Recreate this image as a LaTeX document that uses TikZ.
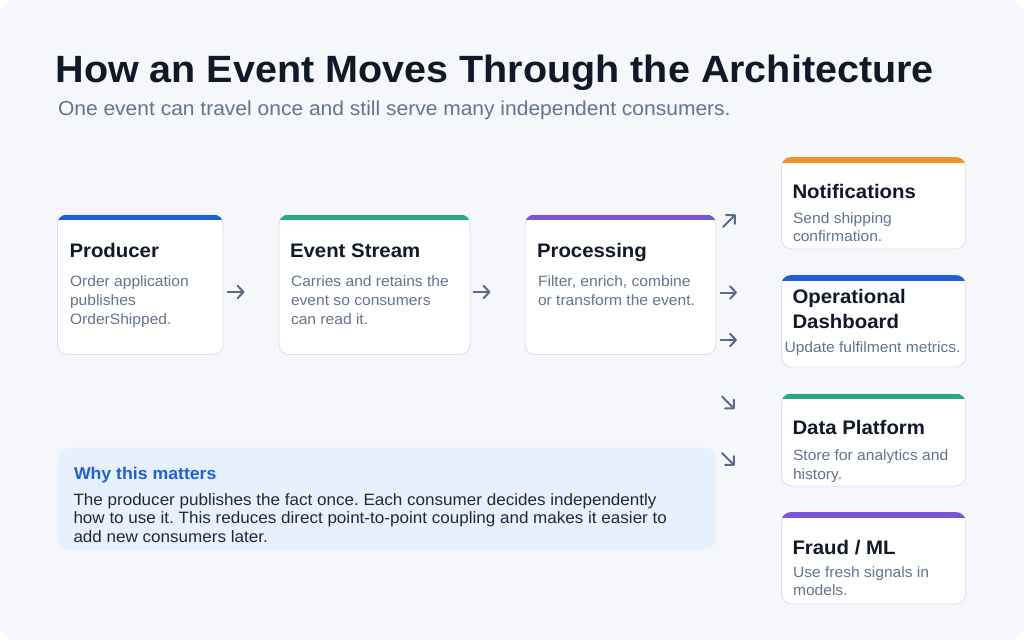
\documentclass[tikz,border=0pt]{standalone}
\usepackage{fontspec}
\setmainfont[FakeStretch=1.04]{Liberation Sans}
\usetikzlibrary{fit,arrows.meta}
\frenchspacing
\definecolor{pagebg}{HTML}{F5F7FB}
\definecolor{titlecol}{HTML}{111827}
\definecolor{subcol}{HTML}{64748B}
\definecolor{cardline}{HTML}{DCE3EE}
\definecolor{accblue}{HTML}{1F5FDC}
\definecolor{accgreen}{HTML}{2AA881}
\definecolor{accpurple}{HTML}{7956D6}
\definecolor{accorange}{HTML}{F0932B}
\definecolor{whyfill}{HTML}{E7F0FD}
\definecolor{whytext}{HTML}{1E293B}
\definecolor{arrowcol}{HTML}{5B6A85}
\newcommand\mkcard[6]{%
  \node[cardnode, fit={(#2,#3) (#4,#5)}] (#1) {};
  \begin{scope}
    \clip[rounded corners=10pt] (#1.north west) rectangle (#1.south east);
    \fill[#6] (#1.north west) rectangle ([yshift=-5.5pt]#1.north east);
  \end{scope}}
\begin{document}
\begin{tikzpicture}[x=1pt,y=-1pt,
  cardnode/.style={draw=cardline, line width=0.9pt, fill=white, rounded corners=10pt, inner sep=0pt},
  txt/.style={anchor=base west, inner sep=0pt, outer sep=0pt},
  bigtitle/.style={txt, text=titlecol, font=\fontsize{38}{44}\selectfont\bfseries},
  subtitle/.style={txt, text=subcol, font=\fontsize{20.2}{24}\selectfont},
  ctitle/.style={txt, text=titlecol, font=\fontsize{19.6}{24}\selectfont\bfseries},
  cbody/.style={txt, text=subcol, font=\fontsize{15}{19}\selectfont},
  whytitle/.style={txt, text=accblue, font=\fontsize{17}{20}\selectfont\bfseries},
  whybody/.style={txt, text=whytext, font=\fontsize{16.4}{19}\selectfont},
  flowarrow/.style={draw=arrowcol, line width=2pt, line cap=round, line join=round,
    -{Straight Barb[length=6pt, width=12.5pt, line width=2pt, round]}}]
\useasboundingbox (0,0) rectangle (1024,640);
\fill[white] (0,0) rectangle (1024,640);
\fill[pagebg, rounded corners=16pt] (0,0) rectangle (1024,640);

\node[bigtitle] (title) at (55.5,82) {How an Event Moves Through the Architecture};
\node[subtitle] (sub) at (58,115) {One event can travel once and still serve many independent consumers.};

% main flow cards
\mkcard{prod}{57.5}{215}{223}{354.5}{accblue}
\mkcard{stream}{279}{215}{470}{354.5}{accgreen}
\mkcard{proc}{525}{215}{716}{354.5}{accpurple}

\node[ctitle] (prodT) at (69.5,257) {Producer};
\node[cbody] (prodB1) at (70,286) {Order application};
\node[cbody] (prodB2) at (70,305) {publishes};
\node[cbody] (prodB3) at (70,324) {OrderShipped.};

\node[ctitle] (streamT) at (290,257) {Event Stream};
\node[cbody] (streamB1) at (291,286) {Carries and retains the};
\node[cbody] (streamB2) at (291,305) {event so consumers};
\node[cbody] (streamB3) at (291,324) {can read it.};

\node[ctitle] (procT) at (537,257) {Processing};
\node[cbody] (procB1) at (538,286) {Filter, enrich, combine};
\node[cbody] (procB2) at (538,305) {or transform the event.};

% consumer cards
\mkcard{notif}{781.5}{157.5}{965.5}{249}{accorange}
\mkcard{dash}{781.5}{275.5}{965.5}{367}{accblue}
\mkcard{data}{781.5}{394}{965.5}{486}{accgreen}
\mkcard{fraud}{781.5}{512.5}{965.5}{604}{accpurple}

\node[ctitle] (notifT) at (792.5,198) {Notifications};
\node[cbody] (notifB1) at (793,223) {Send shipping};
\node[cbody] (notifB2) at (793,241) {confirmation.};

\node[ctitle] (dashT1) at (792.5,303) {Operational};
\node[ctitle] (dashT2) at (792.5,328) {Dashboard};
\node[cbody] (dashB1) at (784.5,352.5) {Update fulfilment metrics.};

\node[ctitle] (dataT) at (792.5,434.5) {Data Platform};
\node[cbody] (dataB1) at (793,460.5) {Store for analytics and};
\node[cbody] (dataB2) at (793,479) {history.};

\node[ctitle] (fraudT) at (792.5,554) {Fraud / ML};
\node[cbody] (fraudB1) at (793,577) {Use fresh signals in};
\node[cbody] (fraudB2) at (793,595.5) {models.};

% why box
\node[fill=whyfill, rounded corners=12pt, inner sep=0pt, fit={(58,447.5) (716,550)}] (why) {};
\node[whytitle] (whyT) at (74,479.5) {Why this matters};
\node[whybody] (whyB1) at (73.5,505) {The producer publishes the fact once. Each consumer decides independently};
\node[whybody] (whyB2) at (73.5,523.5) {how to use it. This reduces direct point-to-point coupling and makes it easier to};
\node[whybody] (whyB3) at (73.5,542) {add new consumers later.};

% arrow marks between the stages
\coordinate (a1s) at (227.5,292); \coordinate (a1e) at (244.5,292);
\coordinate (a2s) at (473.5,292); \coordinate (a2e) at (490.5,292);
\coordinate (a3s) at (723,227); \coordinate (a3e) at (735.5,214.5);
\coordinate (a4s) at (720.5,292.5); \coordinate (a4e) at (737,292.5);
\coordinate (a5s) at (720.5,340); \coordinate (a5e) at (737,340);
\coordinate (a6s) at (722,396.5); \coordinate (a6e) at (734.5,409);
\coordinate (a7s) at (722,453); \coordinate (a7e) at (734.5,465.5);
\draw[flowarrow] (a1s) -- (a1e);
\draw[flowarrow] (a2s) -- (a2e);
\draw[flowarrow] (a3s) -- (a3e);
\draw[flowarrow] (a4s) -- (a4e);
\draw[flowarrow] (a5s) -- (a5e);
\draw[flowarrow] (a6s) -- (a6e);
\draw[flowarrow] (a7s) -- (a7e);
\end{tikzpicture}
\end{document}
